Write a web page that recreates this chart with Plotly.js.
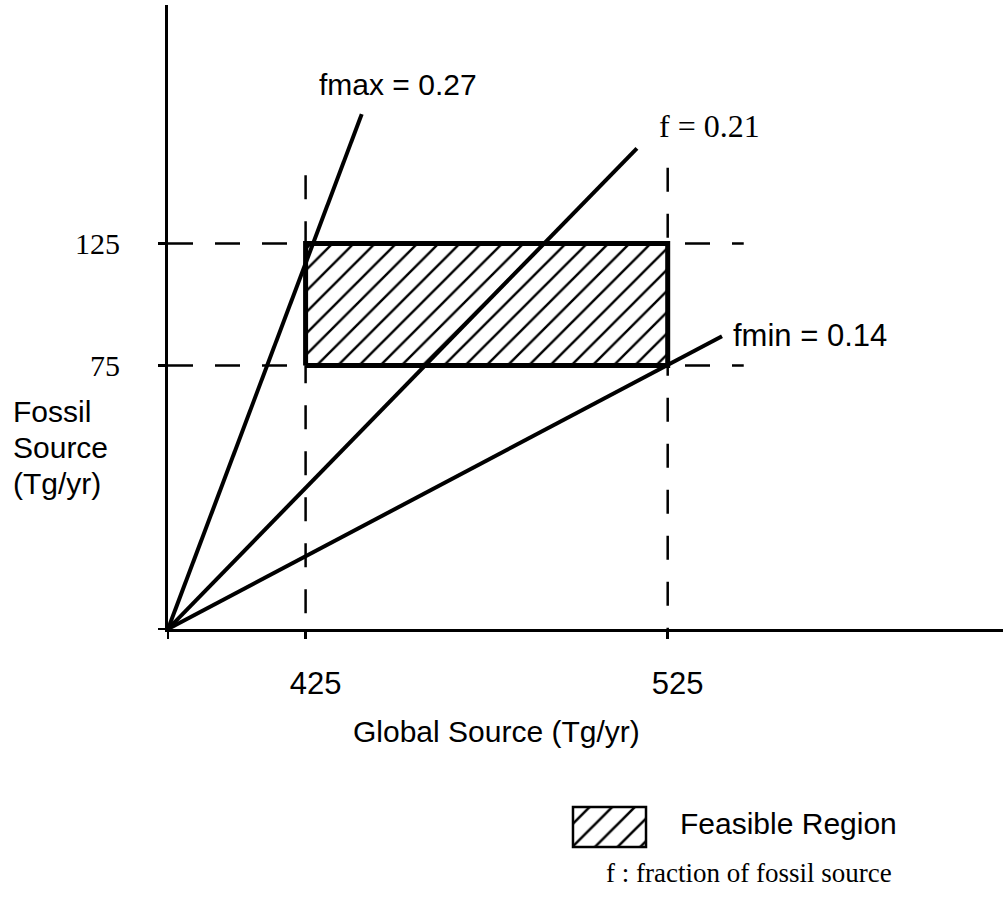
<!DOCTYPE html>
<html>
<head>
<meta charset="utf-8">
<script src="https://cdn.plot.ly/plotly-3.0.1.min.js"></script>
<style>html,body{margin:0;padding:0;background:#fff;}#chart{width:1003px;height:898px;}</style>
</head>
<body>
<div id="chart"></div>
<script>
// ---- data (schematic units: Global Source / Fossil Source, Tg/yr) ----
const originX = 387;          // where the x axis starts (schematic)
const originY = -33;          // where the y axis starts (schematic)
const xTickVals = [425, 525];
const xTickText = ['425', '525'];
const yTickVals = [75, 125];
const yTickText = ['75', '125'];

const fmaxX = [387, 440.5];
const fmaxY = [-33, 178];
const fMidX = [387, 516.5];
const fMidY = [-33, 164];
const fminX = [387, 540];
const fminY = [-33, 87];

const regionX = [425, 525, 525, 425, 425];
const regionY = [75, 75, 125, 125, 75];

const hiDashX = [387, 546];
const hiDashY = [125, 125];
const loDashX = [387, 546];
const loDashY = [75, 75];
const leftDashX = [425, 425];
const leftDashY = [153, -33];
const rightDashX = [525, 525];
const rightDashY = [156, -33];

const legendSwatch = [1];

// ---- styling ----
const SANS = 'Liberation Sans, Arial, Helvetica, sans-serif';
const SERIF = 'Liberation Serif, Times New Roman, serif';
const W = 1003, H = 898;
const px = v => v / W;
const py = v => 1 - v / H;

function line(x, y, width, dash) {
  return {type: 'scatter', mode: 'lines', x: x, y: y, hoverinfo: 'skip', showlegend: false,
          line: {color: '#000', width: width, dash: dash || 'solid'}};
}

const traces = [
  line(hiDashX, hiDashY, 2.5, '25px,22px'),
  line(loDashX, loDashY, 2.5, '25px,22px'),
  line(leftDashX, leftDashY, 2.5, '24px,22px'),
  line(rightDashX, rightDashY, 2.5, '24px,22px'),
  {type: 'scatter', mode: 'lines', x: regionX, y: regionY, fill: 'toself', hoverinfo: 'skip',
   showlegend: false, fillcolor: '#fff',
   fillpattern: {shape: '/', fgcolor: '#000', bgcolor: '#fff', size: 15, solidity: 0.16},
   line: {color: '#000', width: 5}},
  line(fmaxX, fmaxY, 4),
  line(fMidX, fMidY, 4),
  line(fminX, fminY, 4),
  {type: 'bar', x: [0], y: legendSwatch, width: 1, xaxis: 'x2', yaxis: 'y2', hoverinfo: 'skip',
   showlegend: false,
   marker: {color: '#fff', line: {color: '#000', width: 2.5},
            pattern: {shape: '/', fgcolor: '#000', bgcolor: '#fff', size: 16, solidity: 0.16}}}
];

const ann = (text, x, y, font, size) => ({
  text: text, x: px(x), y: py(y), xref: 'paper', yref: 'paper', xanchor: 'left', yanchor: 'middle',
  showarrow: false, font: {family: font, size: size, color: '#000'}
});

const layout = {
  width: W, height: H,
  margin: {l: 0, r: 0, t: 0, b: 0},
  paper_bgcolor: '#fff', plot_bgcolor: 'rgba(0,0,0,0)',
  showlegend: false,
  xaxis: {
    domain: [168 / W, 1], range: [originX, originX + 835 / 3.621],
    showgrid: false, zeroline: false, showline: true, linecolor: '#000', linewidth: 3,
    tickmode: 'array', tickvals: [originX].concat(xTickVals), ticktext: [''].concat(xTickText),
    ticks: 'outside', ticklen: 7, tickwidth: 2.5, tickcolor: '#000',
    tickfont: {family: SANS, size: 31, color: '#000'},
    ticklabelstandoff: 18, ticklabelshift: 10, fixedrange: true
  },
  yaxis: {
    domain: [1 - 629 / H, 1 - 5 / H], range: [originY, originY + 624 / 2.44],
    showgrid: false, zeroline: false, showline: true, linecolor: '#000', linewidth: 3,
    tickmode: 'array', tickvals: [originY].concat(yTickVals), ticktext: [''].concat(yTickText),
    ticks: 'outside', ticklen: 7, tickwidth: 2.5, tickcolor: '#000',
    tickfont: {family: SERIF, size: 30, color: '#000'},
    ticklabelstandoff: 32, fixedrange: true
  },
  xaxis2: {domain: [570 / W, 649 / W], range: [-0.541, 0.541], visible: false, fixedrange: true, anchor: 'y2'},
  yaxis2: {domain: [1 - 850 / H, 1 - 804 / H], range: [-0.075, 1.075], visible: false, fixedrange: true, anchor: 'x2'},
  annotations: [
    ann('fmax = 0.27', 317, 84, SANS, 30),
    ann('f = 0.21', 657, 126, SERIF, 32),
    ann('fmin = 0.14', 731, 335, SANS, 31),
    ann('Fossil', 11, 411, SANS, 30),
    ann('Source', 11, 447, SANS, 30),
    ann('(Tg/yr)', 11, 483, SANS, 30),
    {text: 'Global Source (Tg/yr)', x: px(496), y: py(731), xref: 'paper', yref: 'paper',
     xanchor: 'center', yanchor: 'middle', showarrow: false, font: {family: SANS, size: 30, color: '#000'}},
    ann('Feasible Region', 678, 823, SANS, 30),
    ann('f : fraction of fossil source', 604, 873, SERIF, 27)
  ]
};

Plotly.newPlot('chart', traces, layout, {staticPlot: true, displayModeBar: false});
</script>
</body>
</html>
